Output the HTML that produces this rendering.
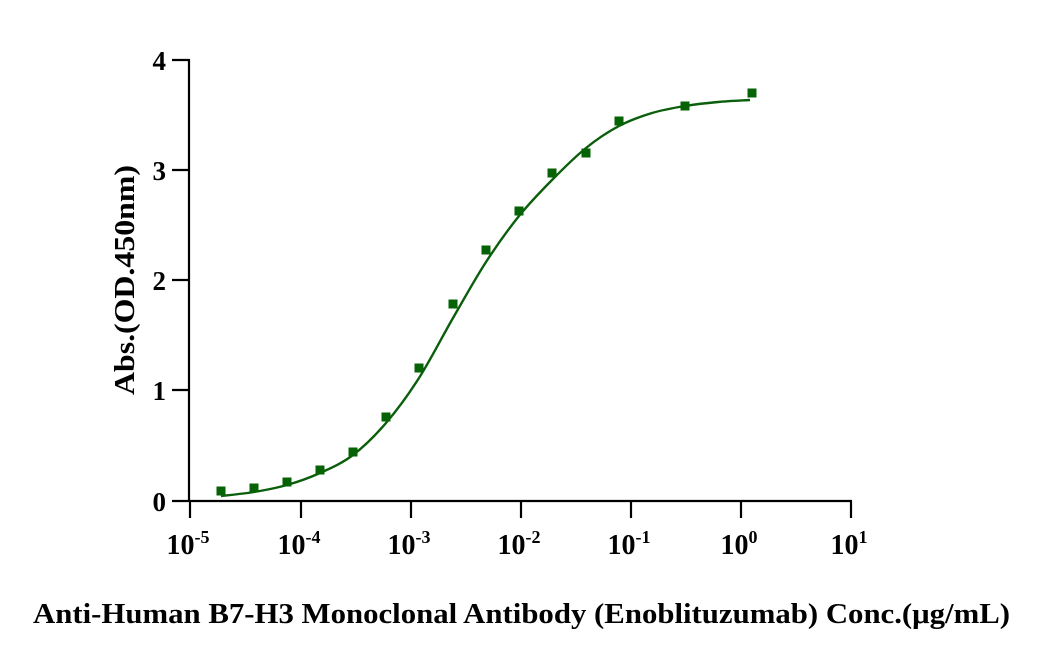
<!DOCTYPE html>
<html><head><meta charset="utf-8"><style>
body{margin:0;background:#fff;}
svg{display:block;}
text{font-family:"Liberation Serif",serif;font-weight:bold;fill:#000;}
</style></head><body>
<svg width="1044" height="662" viewBox="0 0 1044 662" xmlns="http://www.w3.org/2000/svg">
<g stroke="#000" stroke-width="2.2" fill="none">
<line x1="189" y1="59" x2="189" y2="501"/>
<line x1="172" y1="501" x2="852" y2="501"/>
<line x1="172" y1="60" x2="189" y2="60"/>
<line x1="172" y1="170" x2="189" y2="170"/>
<line x1="172" y1="280" x2="189" y2="280"/>
<line x1="172" y1="390" x2="189" y2="390"/>
<line x1="190" y1="501" x2="190" y2="518"/>
<line x1="301" y1="501" x2="301" y2="518"/>
<line x1="411" y1="501" x2="411" y2="518"/>
<line x1="521" y1="501" x2="521" y2="518"/>
<line x1="631" y1="501" x2="631" y2="518"/>
<line x1="741" y1="501" x2="741" y2="518"/>
<line x1="851" y1="501" x2="851" y2="518"/>
</g>
<g font-size="27" text-anchor="end">
<text x="166" y="70">4</text>
<text x="166" y="180">3</text>
<text x="166" y="290">2</text>
<text x="166" y="400">1</text>
<text x="166" y="511">0</text>
</g>
<g font-size="28" text-anchor="middle">
<text x="188" y="554">10<tspan font-size="18" dy="-11">-5</tspan></text>
<text x="299" y="554">10<tspan font-size="18" dy="-11">-4</tspan></text>
<text x="409" y="554">10<tspan font-size="18" dy="-11">-3</tspan></text>
<text x="519" y="554">10<tspan font-size="18" dy="-11">-2</tspan></text>
<text x="629" y="554">10<tspan font-size="18" dy="-11">-1</tspan></text>
<text x="739" y="554">10<tspan font-size="18" dy="-11">0</tspan></text>
<text x="849" y="554">10<tspan font-size="18" dy="-11">1</tspan></text>
</g>
<text x="134" y="280" font-size="28" text-anchor="middle" textLength="230" lengthAdjust="spacingAndGlyphs" transform="rotate(-90 134 280)">Abs.(OD.450nm)</text>
<text x="33" y="623" font-size="29" textLength="977" lengthAdjust="spacingAndGlyphs">Anti-Human B7-H3 Monoclonal Antibody (Enoblituzumab) Conc.(μg/mL)</text>
<path id="curve" fill="none" stroke="#0b5e0b" stroke-width="2.4" d=""/>
<g id="pts" fill="#056205"></g>
</svg>
<script>
var c=[[221,496],[254,492],[287,485],[320,473],[353,455],[386,423],[419,378],[453,318],[486,262],[519,216],[552,180],[586,148],[619,126],[652,113],[685,106],[718,102],[750,100]];
var d="M"+c[0][0]+","+c[0][1];
for(var i=0;i<c.length-1;i++){var p0=c[Math.max(0,i-1)],p1=c[i],p2=c[i+1],p3=c[Math.min(c.length-1,i+2)];
d+=" C"+(p1[0]+(p2[0]-p0[0])/6)+","+(p1[1]+(p2[1]-p0[1])/6)+" "+(p2[0]-(p3[0]-p1[0])/6)+","+(p2[1]-(p3[1]-p1[1])/6)+" "+p2[0]+","+p2[1];}
document.getElementById("curve").setAttribute("d",d);
var p=[[221,491],[254,488],[287,482],[320,470],[353,452],[386,417],[419,368],[453,304],[486,250],[519,211],[552,173],[586,153],[619,121],[685,106],[752,93]];
var g=document.getElementById("pts"),s="";
p.forEach(function(q){s+='<rect x="'+(q[0]-4.5)+'" y="'+(q[1]-4.5)+'" width="9" height="9"/>';});
g.innerHTML=s;
</script>
</body></html>
